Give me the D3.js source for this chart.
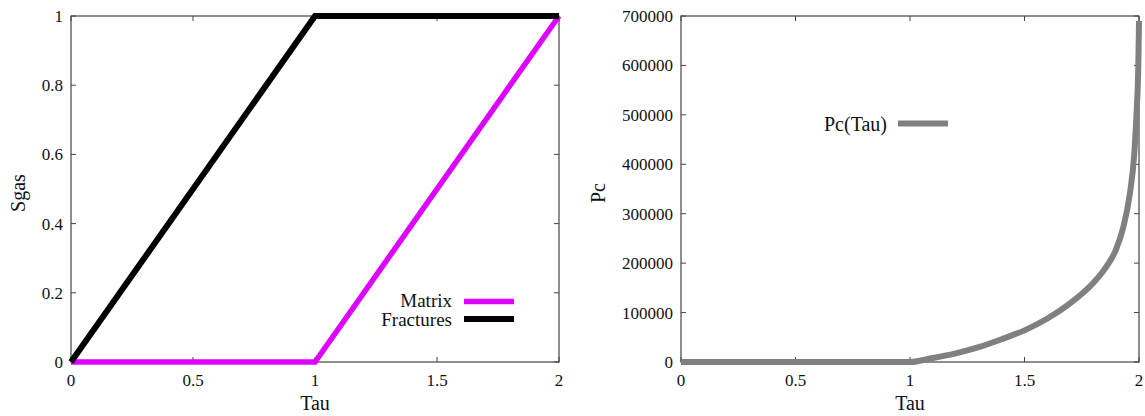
<!DOCTYPE html>
<html><head><meta charset="utf-8">
<script src="https://cdn.jsdelivr.net/npm/d3@7"></script>
<style>
html,body{margin:0;padding:0;background:#fff;}
svg{display:block;}
text{font-family:"Liberation Serif","DejaVu Serif",serif;fill:#111;}
</style></head>
<body>
<svg id="c" width="1145" height="416"></svg>
<script>
// ---- data ----
const tauMatrix = [0, 1, 2];
const sgasMatrix = [0, 0, 1];
const tauFractures = [0, 1, 2];
const sgasFractures = [0, 1, 1];
const tauPc = [0, 1.0, 1.1, 1.2, 1.3, 1.4, 1.5, 1.6, 1.7, 1.8, 1.85, 1.9, 1.93, 1.96, 1.98, 1.99, 1.997, 2.0];
const pcValues = [0, 0, 8000, 17500, 30000, 46000, 64000, 88000, 119000, 160000, 188000, 228000, 270000, 340000, 425000, 510000, 600000, 690000];
const xTicks = [0, 0.5, 1, 1.5, 2];
const yTicksLeft = [0, 0.2, 0.4, 0.6, 0.8, 1];
const yTicksRight = [0, 100000, 200000, 300000, 400000, 500000, 600000, 700000];

const svg = d3.select("#c");

function panel(opt){
  const x = d3.scaleLinear().domain([0,2]).range([opt.x0, opt.x1]);
  const y = d3.scaleLinear().domain(opt.ydom).range([362, 16]);
  const g = svg.append("g");
  const tl = 5;
  const tickAttrs = s => s.attr("stroke","#444").attr("stroke-width",1);
  xTicks.forEach(t=>{
    g.append("line").attr("x1",x(t)).attr("x2",x(t)).attr("y1",362).attr("y2",362-tl).call(tickAttrs);
    g.append("line").attr("x1",x(t)).attr("x2",x(t)).attr("y1",16).attr("y2",16+tl).call(tickAttrs);
    g.append("text").attr("x",x(t)).attr("y",386).attr("text-anchor","middle")
      .attr("font-size",17).text(t);
  });
  opt.yticks.forEach(t=>{
    g.append("line").attr("x1",opt.x0).attr("x2",opt.x0+tl).attr("y1",y(t)).attr("y2",y(t)).call(tickAttrs);
    g.append("line").attr("x1",opt.x1).attr("x2",opt.x1-tl).attr("y1",y(t)).attr("y2",y(t)).call(tickAttrs);
    g.append("text").attr("x",opt.x0-8).attr("y",y(t)+6).attr("text-anchor","end")
      .attr("font-size",17).text(t);
  });
  g.append("rect").attr("x",opt.x0).attr("y",16).attr("width",opt.x1-opt.x0).attr("height",346)
    .attr("fill","none").attr("stroke","#444").attr("stroke-width",1.2);
  g.append("text").attr("x",(opt.x0+opt.x1)/2).attr("y",410).attr("text-anchor","middle")
    .attr("font-size",20).text("Tau");
  g.append("text").attr("transform",`translate(${opt.ytx},193) rotate(-90)`).attr("text-anchor","middle")
    .attr("font-size",20).text(opt.ytitle);
  return {x,y,g};
}

// Left panel
const L = panel({x0:71, x1:559, ydom:[0,1], yticks:yTicksLeft, ytitle:"Sgas", ytx:25});
const lineL = d3.line().x(d=>L.x(d[0])).y(d=>L.y(d[1]));
L.g.append("path").datum(d3.zip(tauMatrix, sgasMatrix)).attr("d",lineL)
  .attr("fill","none").attr("stroke","#dd00ff").attr("stroke-width",5.5);
L.g.append("path").datum(d3.zip(tauFractures, sgasFractures)).attr("d",lineL)
  .attr("fill","none").attr("stroke","#000").attr("stroke-width",6);
// legend left
L.g.append("text").attr("x",452).attr("y",307).attr("text-anchor","end").attr("font-size",19).text("Matrix");
L.g.append("line").attr("x1",464).attr("x2",514).attr("y1",301.5).attr("y2",301.5).attr("stroke","#dd00ff").attr("stroke-width",5.5);
L.g.append("text").attr("x",452).attr("y",326).attr("text-anchor","end").attr("font-size",19).text("Fractures");
L.g.append("line").attr("x1",464).attr("x2",514).attr("y1",319).attr("y2",319).attr("stroke","#000").attr("stroke-width",6);

// Right panel
const R = panel({x0:681, x1:1139, ydom:[0,700000], yticks:yTicksRight, ytitle:"Pc", ytx:605});
const lineR = d3.line().x(d=>R.x(d[0])).y(d=>R.y(d[1])).curve(d3.curveMonotoneX);
R.g.append("path").datum(d3.zip(tauPc, pcValues)).attr("d",lineR)
  .attr("fill","none").attr("stroke","#808080").attr("stroke-width",6).attr("stroke-linejoin","round");
R.g.append("text").attr("x",887).attr("y",131).attr("text-anchor","end").attr("font-size",20).text("Pc(Tau)");
R.g.append("line").attr("x1",898).attr("x2",948).attr("y1",123.5).attr("y2",123.5).attr("stroke","#808080").attr("stroke-width",6);
</script>
</body></html>
